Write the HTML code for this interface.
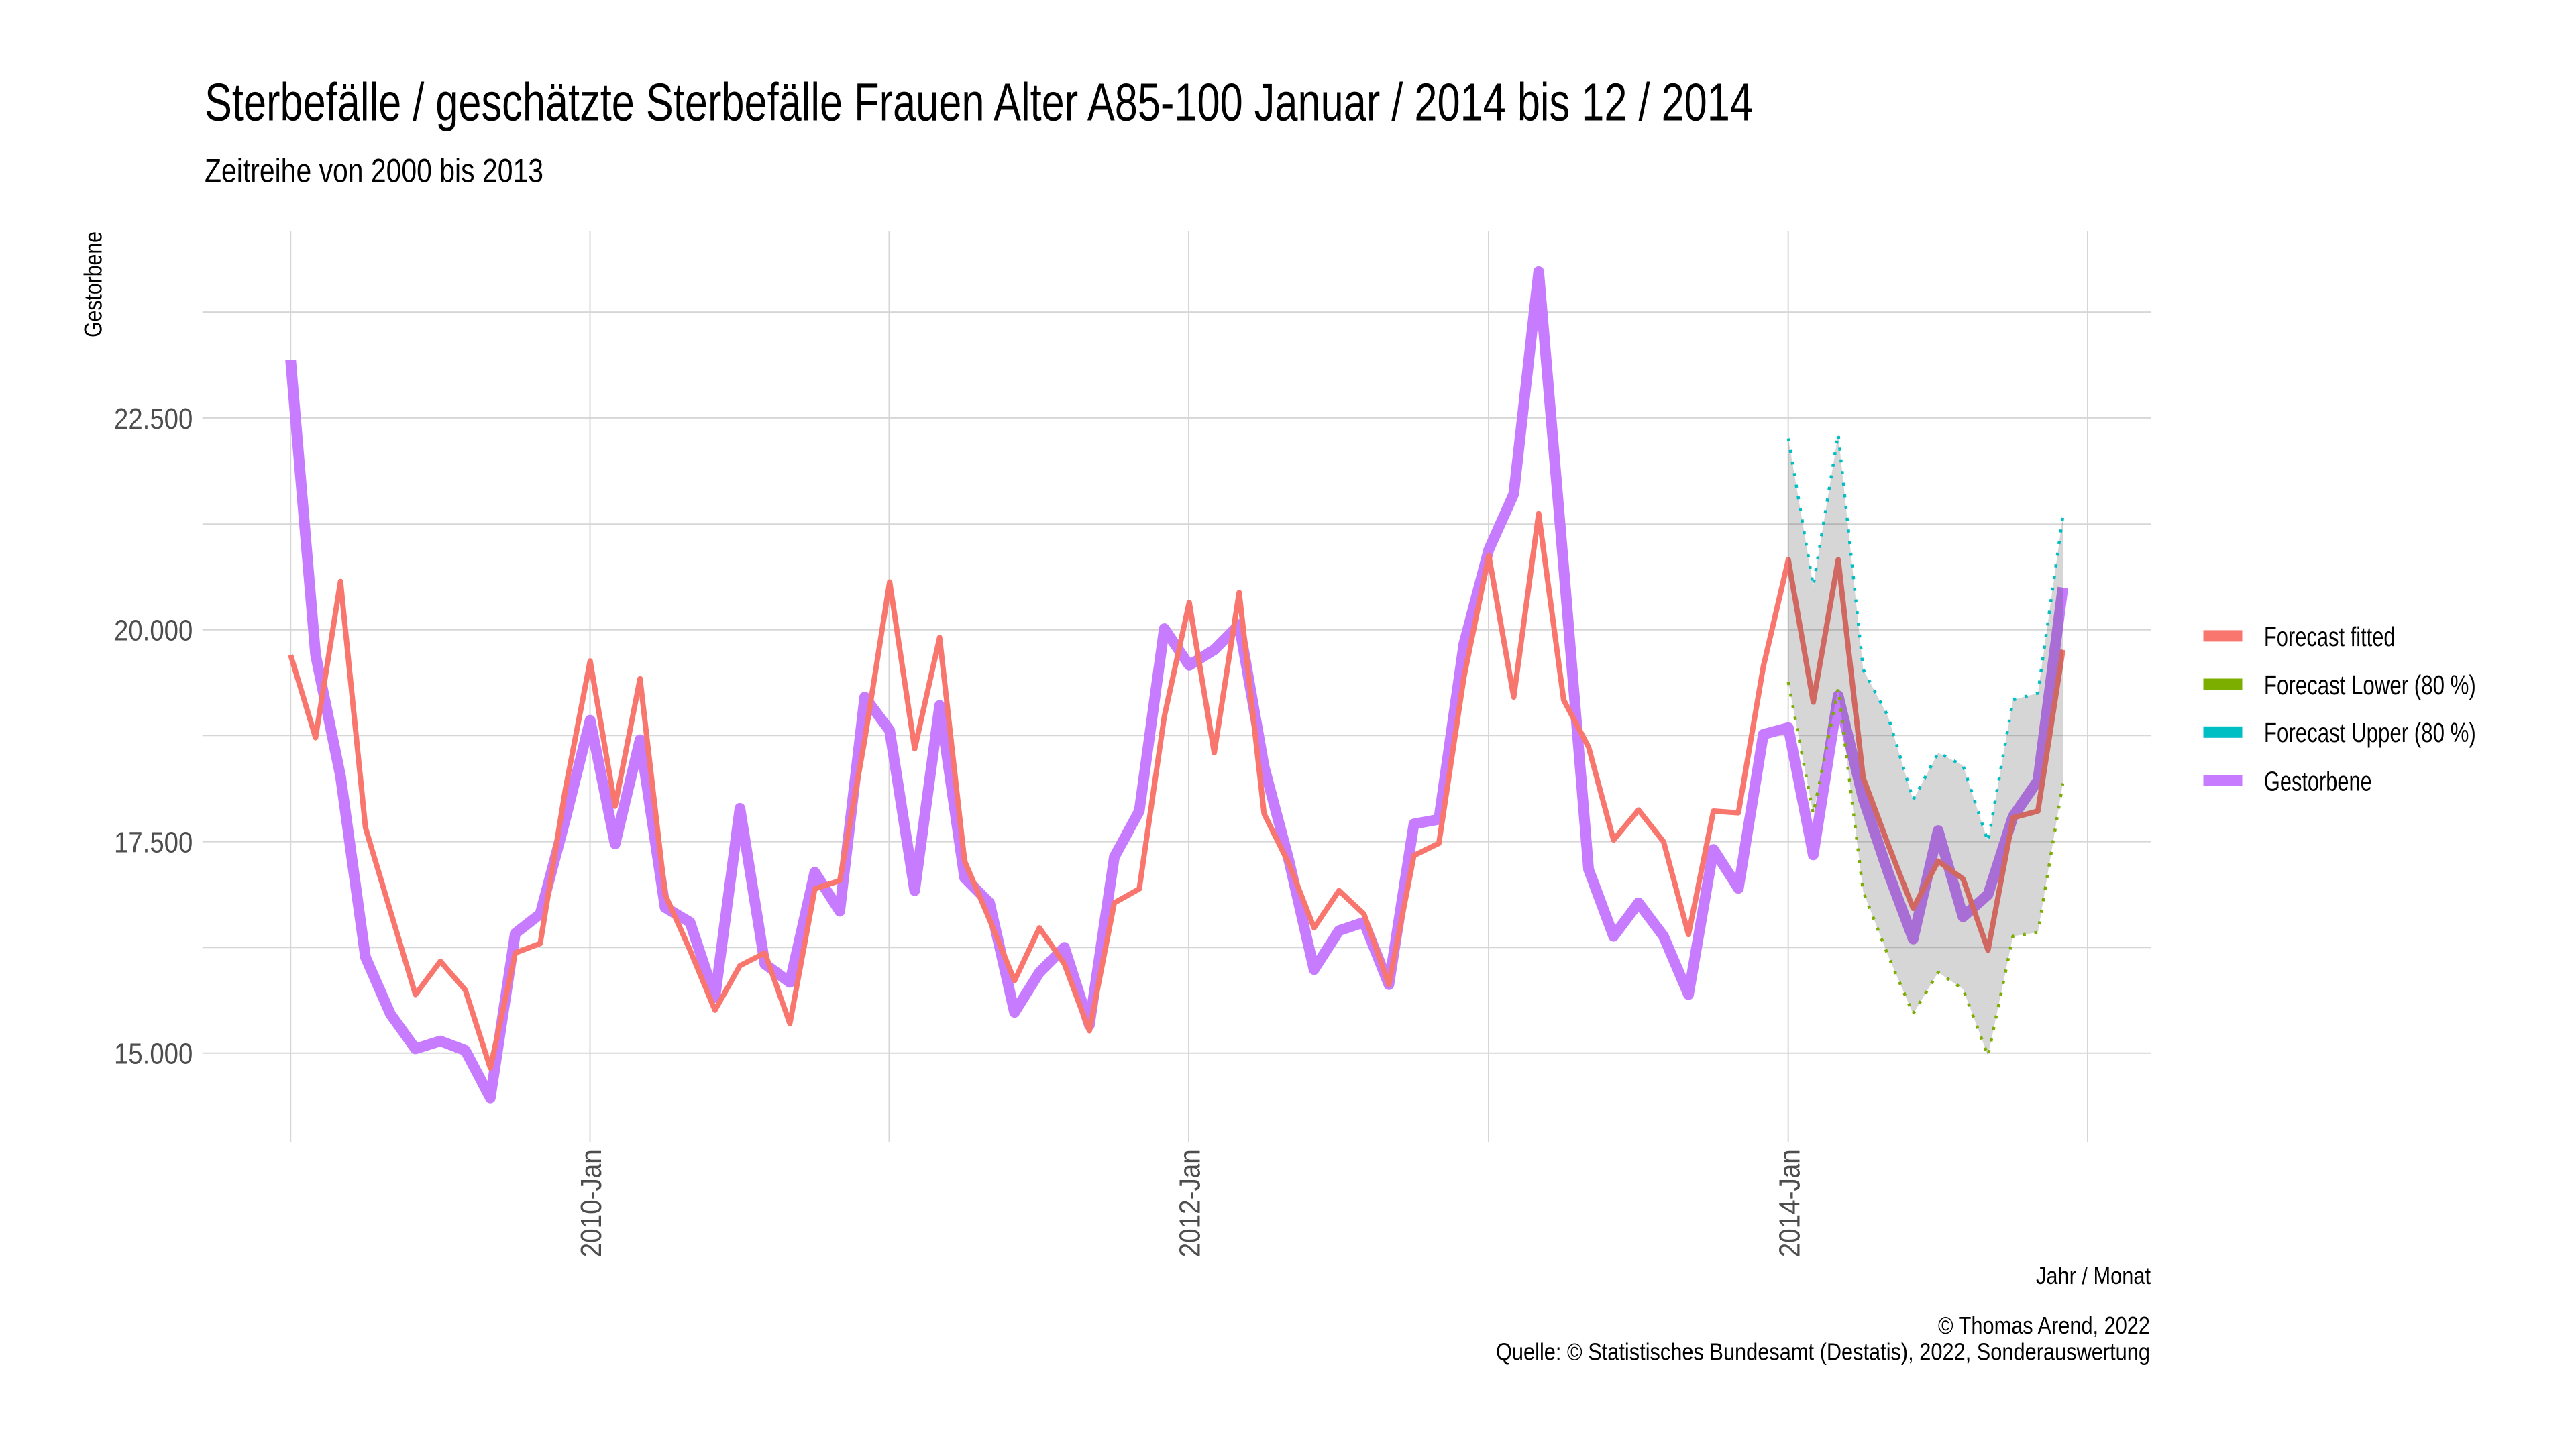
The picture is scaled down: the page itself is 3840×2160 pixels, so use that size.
<!DOCTYPE html>
<html>
<head>
<meta charset="utf-8">
<style>
html,body{margin:0;padding:0;background:#fff;}
svg{display:block;}
text{font-family:"Liberation Sans Narrow","Liberation Sans",Arial,sans-serif;}
</style>
</head>
<body>
<svg width="3840" height="2160" viewBox="0 0 3840 2160" xmlns="http://www.w3.org/2000/svg">
<rect x="0" y="0" width="3840" height="2160" fill="#ffffff"/>

<!-- Title / subtitle -->
<text x="305" y="179.3" font-size="80" fill="#000" textLength="2308" lengthAdjust="spacingAndGlyphs">Sterbefälle / geschätzte Sterbefälle Frauen Alter A85-100 Januar / 2014 bis 12 / 2014</text>
<text x="305" y="271.7" font-size="50" fill="#000" textLength="505" lengthAdjust="spacingAndGlyphs">Zeitreihe von 2000 bis 2013</text>

<!-- Y axis title -->
<text transform="translate(151.7,503) rotate(-90)" font-size="37" fill="#000" textLength="158" lengthAdjust="spacingAndGlyphs">Gestorbene</text>

<!-- Grid -->
<g stroke="#d6d6d6" stroke-width="2" fill="none">
<line x1="301.7" y1="465.1" x2="3206" y2="465.1"/>
<line x1="301.7" y1="622.9" x2="3206" y2="622.9"/>
<line x1="301.7" y1="781.3" x2="3206" y2="781.3"/>
<line x1="301.7" y1="938.8" x2="3206" y2="938.8"/>
<line x1="301.7" y1="1096.3" x2="3206" y2="1096.3"/>
<line x1="301.7" y1="1254.6" x2="3206" y2="1254.6"/>
<line x1="301.7" y1="1412.2" x2="3206" y2="1412.2"/>
<line x1="301.7" y1="1569.7" x2="3206" y2="1569.7"/>
<line x1="433.2" y1="344" x2="433.2" y2="1702"/>
<line x1="879.5" y1="344" x2="879.5" y2="1702"/>
<line x1="1325.5" y1="344" x2="1325.5" y2="1702"/>
<line x1="1772" y1="344" x2="1772" y2="1702"/>
<line x1="2219" y1="344" x2="2219" y2="1702"/>
<line x1="2665.7" y1="344" x2="2665.7" y2="1702"/>
<line x1="3112" y1="344" x2="3112" y2="1702"/>
</g>

<!-- Y tick labels -->
<g font-size="44" fill="#4d4d4d">
<text x="170" y="639" textLength="117.3" lengthAdjust="spacingAndGlyphs">22.500</text>
<text x="170" y="954.7" textLength="117.3" lengthAdjust="spacingAndGlyphs">20.000</text>
<text x="170" y="1270.5" textLength="117.3" lengthAdjust="spacingAndGlyphs">17.500</text>
<text x="170" y="1585.6" textLength="117.3" lengthAdjust="spacingAndGlyphs">15.000</text>
</g>

<!-- X tick labels -->
<g font-size="44" fill="#4d4d4d">
<text transform="translate(896.2,1874.3) rotate(-90)" textLength="161" lengthAdjust="spacingAndGlyphs">2010-Jan</text>
<text transform="translate(1788.7,1874.3) rotate(-90)" textLength="161" lengthAdjust="spacingAndGlyphs">2012-Jan</text>
<text transform="translate(2682.4,1874.3) rotate(-90)" textLength="161" lengthAdjust="spacingAndGlyphs">2014-Jan</text>
</g>

<!-- Gestorbene (purple) -->
<polyline fill="none" stroke="#C77CFF" stroke-width="16" stroke-linejoin="round" stroke-linecap="butt" points="
433.2,536.5 470.4,975.9 507.6,1157.0 544.8,1426.8 582.0,1511.6 619.3,1563.4 656.5,1551.8 693.7,1565.9 730.9,1636.6 768.1,1391.4
805.3,1362.4 842.5,1222.5 879.7,1073.6 916.9,1257.9 954.1,1102.6 991.4,1352.6 1028.6,1374.8 1065.8,1486.8 1103.0,1204.9 1140.2,1437.0
1177.4,1464.4 1214.6,1300.3 1251.8,1358.3 1289.0,1039.1 1326.2,1088.9 1363.5,1327.6 1400.7,1051.6 1437.9,1308.5 1475.1,1345.9 1512.3,1509.1
1549.5,1449.5 1586.7,1412.2 1623.9,1528.2 1661.1,1277.5 1698.3,1209.0 1735.6,937.1 1772.8,991.8 1810.0,968.6 1847.2,931.3 1884.4,1142.8
1921.6,1283.6 1958.8,1445.2 1996.0,1387.3 2033.2,1374.8 2070.4,1467.7 2107.7,1228.3 2144.9,1221.5 2182.1,960.3 2219.3,819.4 2256.5,736.5
2293.7,404.9 2330.9,844.4 2368.1,1296.1 2405.3,1395.6 2442.5,1345.9 2479.8,1395.6 2517.0,1482.6 2554.2,1266.2 2591.4,1324.2 2628.6,1094.7
2665.8,1084.7 2703.0,1274.3 2740.2,1037.0 2777.4,1190.4 2814.6,1300.3 2851.9,1399.7 2889.1,1238.1 2926.3,1366.6 2963.5,1333.4 3000.7,1217.4
3037.9,1163.5 3075.1,875.8"/>

<!-- Forecast fitted (red) -->
<polyline fill="none" stroke="#F8766D" stroke-width="8" stroke-linejoin="round" stroke-linecap="butt" points="
433.2,976.4 470.4,1099.6 507.6,866.7 544.8,1233.9 582.0,1358.3 619.3,1482.6 656.5,1432.9 693.7,1476.0 730.9,1592.0 768.1,1420.5
805.3,1406.4 842.5,1178.4 879.7,985.2 916.9,1201.7 954.1,1011.7 991.4,1333.4 1028.6,1416.3 1065.8,1505.8 1103.0,1439.5 1140.2,1420.5
1177.4,1525.8 1214.6,1325.0 1251.8,1312.7 1289.0,1102.6 1326.2,867.4 1363.5,1116.1 1400.7,950.4 1437.9,1283.6 1475.1,1370.8 1512.3,1461.9
1549.5,1383.1 1586.7,1437.0 1623.9,1536.5 1661.1,1345.9 1698.3,1325.0 1735.6,1068.1 1772.8,898.1 1810.0,1122.1 1847.2,883.2 1884.4,1213.2
1921.6,1287.8 1958.8,1383.1 1996.0,1327.6 2033.2,1362.4 2070.4,1467.7 2107.7,1275.3 2144.9,1257.1 2182.1,1010.1 2219.3,827.7 2256.5,1039.1
2293.7,765.6 2330.9,1043.3 2368.1,1113.7 2405.3,1252.2 2442.5,1207.4 2479.8,1254.6 2517.0,1393.1 2554.2,1209.0 2591.4,1211.6 2628.6,993.5
2665.8,834.4 2703.0,1046.6 2740.2,834.4 2777.4,1159.3 2814.6,1258.8 2851.9,1354.1 2889.1,1283.6 2926.3,1310.2 2963.5,1416.3 3000.7,1219.0
3037.9,1209.0 3075.1,968.6"/>

<!-- Ribbon -->
<polygon fill="#333333" fill-opacity="0.2" stroke="none" points="
2665.8,653.6 2703.0,873.2 2740.2,647.0 2777.4,997.7 2814.6,1068.1 2851.9,1192.5 2889.1,1122.1 2926.3,1141.1 2963.5,1254.6 3000.7,1043.3 3037.9,1033.3 3075.1,769.7
3075.1,1167.6 3037.9,1389.8 3000.7,1395.6 2963.5,1573.9 2926.3,1474.4 2889.1,1449.4 2851.9,1511.6 2814.6,1424.7 2777.4,1329.2 2740.2,1026.6 2703.0,1213.2 2665.8,1016.8"/>

<!-- Lower (green dotted) -->
<polyline fill="none" stroke="#7CAE00" stroke-width="4.5" stroke-dasharray="4.5 13" stroke-linejoin="round" points="
2665.8,1016.8 2703.0,1213.2 2740.2,1026.6 2777.4,1329.2 2814.6,1424.7 2851.9,1511.6 2889.1,1449.4 2926.3,1474.4 2963.5,1573.9 3000.7,1395.6 3037.9,1389.8 3075.1,1167.6"/>

<!-- Upper (cyan dotted) -->
<polyline fill="none" stroke="#00BFC4" stroke-width="4.5" stroke-dasharray="4.5 13" stroke-linejoin="round" points="
2665.8,653.6 2703.0,873.2 2740.2,647.0 2777.4,997.7 2814.6,1068.1 2851.9,1192.5 2889.1,1122.1 2926.3,1141.1 2963.5,1254.6 3000.7,1043.3 3037.9,1033.3 3075.1,769.7"/>

<!-- Legend -->
<rect x="3284.5" y="939.4" width="58" height="17" fill="#F8766D"/>
<rect x="3284.5" y="1011.5" width="58" height="17" fill="#7CAE00"/>
<rect x="3284.5" y="1082.8" width="58" height="17" fill="#00BFC4"/>
<rect x="3284.5" y="1155.0" width="58" height="17" fill="#C77CFF"/>
<g font-size="41" fill="#000">
<text x="3374.9" y="962.8" textLength="195.7" lengthAdjust="spacingAndGlyphs">Forecast fitted</text>
<text x="3374.9" y="1034.9" textLength="315.9" lengthAdjust="spacingAndGlyphs">Forecast Lower (80 %)</text>
<text x="3374.9" y="1106.2" textLength="315.9" lengthAdjust="spacingAndGlyphs">Forecast Upper (80 %)</text>
<text x="3374.9" y="1178.4" textLength="160.8" lengthAdjust="spacingAndGlyphs">Gestorbene</text>
</g>

<!-- X axis title and caption -->
<g fill="#000">
<text x="3035" y="1913.8" font-size="36" textLength="171" lengthAdjust="spacingAndGlyphs">Jahr / Monat</text>
<text x="2889" y="1987.8" font-size="36.5" textLength="316" lengthAdjust="spacingAndGlyphs">© Thomas Arend, 2022</text>
<text x="2230" y="2027.3" font-size="36.5" textLength="975" lengthAdjust="spacingAndGlyphs">Quelle: © Statistisches Bundesamt (Destatis), 2022, Sonderauswertung</text>
</g>
</svg>
</body>
</html>
